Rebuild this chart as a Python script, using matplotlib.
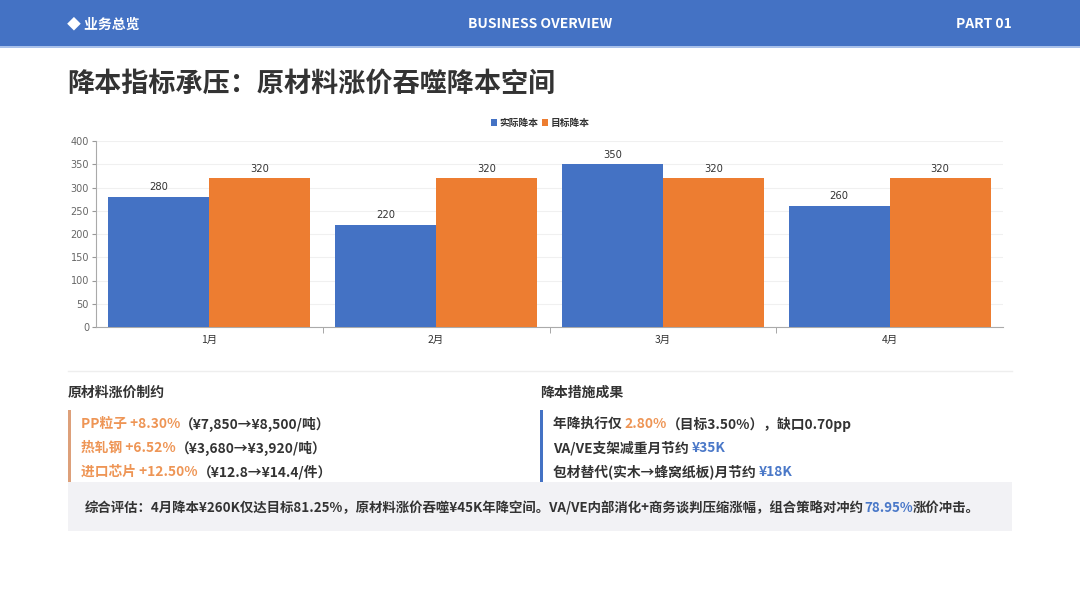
import numpy as np
import matplotlib
matplotlib.use("Agg")
import matplotlib.pyplot as plt
from matplotlib.patches import Rectangle

plt.rcParams['font.family'] = ['Noto Sans CJK SC', 'DejaVu Sans']

# -------------------- data --------------------
months = ["1月", "2月", "3月", "4月"]
actual = [280, 220, 350, 260]
target = [320, 320, 320, 320]
series_names = ["实际降本", "目标降本"]

left_items = [
    [("PP粒子 +8.30%", "o"), ("（¥7,850→¥8,500/吨）", "k")],
    [("热轧钢 +6.52%", "o"), ("（¥3,680→¥3,920/吨）", "k")],
    [("进口芯片 +12.50%", "o"), ("（¥12.8→¥14.4/件）", "k")],
]
right_items = [
    [("年降执行仅 ", "k"), ("2.80%", "o"), ("（目标3.50%），缺口0.70pp", "k")],
    [("VA/VE支架减重月节约 ", "k"), ("¥35K", "b")],
    [("包材替代(实木→蜂窝纸板)月节约 ", "k"), ("¥18K", "b")],
]
summary = [("综合评估：4月降本¥260K仅达目标81.25%，原材料涨价吞噬¥45K年降空间。VA/VE内部消化+商务谈判压缩涨幅，组合策略对冲约", "k"),
           ("78.95%", "b"), ("涨价冲击。", "k")]

BLUE = "#4472C4"
ORANGE = "#ED7D31"
DARK = "#333333"
cmap = {"k": DARK, "o": "#EE9555", "b": "#4A78C8"}

W, H = 1080, 608
fig = plt.figure(figsize=(W / 100, H / 100), dpi=100)
fig.patch.set_facecolor("white")

# page layer in pixel coords
bg = fig.add_axes([0, 0, 1, 1])
bg.set_xlim(0, W)
bg.set_ylim(H, 0)
bg.axis("off")

bg.add_patch(Rectangle((0, 0), W, 46, color=BLUE, lw=0))
bg.add_patch(Rectangle((0, 46), W, 2, color="#A9C1EA", lw=0))
bg.text(67, 24, "◆ 业务总览", color="white", fontsize=10, fontweight="bold", va="center")
bg.text(540, 24, "BUSINESS OVERVIEW", color="white", fontsize=10, fontweight="bold",
        va="center", ha="center")
bg.text(1012, 24, "PART 01", color="white", fontsize=10, fontweight="bold",
        va="center", ha="right")

bg.text(67, 84, "降本指标承压：原材料涨价吞噬降本空间", color=DARK, fontsize=19.5,
        fontweight="bold", va="center")

# separator
bg.plot([68, 1012], [371, 371], color="#EEEEEE", lw=1)

bg.text(68, 393, "原材料涨价制约", color=DARK, fontsize=10, fontweight="bold", va="center")
bg.text(540, 393, "降本措施成果", color=DARK, fontsize=10, fontweight="bold", va="center")

bg.add_patch(Rectangle((68, 410), 2.5, 74, color="#DDA07A", lw=0))
bg.add_patch(Rectangle((540, 410), 2.5, 74, color=BLUE, lw=0))

# summary box
bg.add_patch(Rectangle((68, 482), 944, 49, color="#F2F2F5", lw=0))

fig.canvas.draw()
renderer = fig.canvas.get_renderer()


def runs(x, y, parts, size=10, weight="normal"):
    # place coloured pieces one after another
    for txt, c in parts:
        t = bg.text(x, y, txt, color=cmap[c], fontsize=size, fontweight=weight, va="center")
        bb = t.get_window_extent(renderer=renderer)
        x += bb.width


row_y = [424, 448, 472]
for y, parts in zip(row_y, left_items):
    runs(81, y, parts, size=9.9, weight="bold")
for y, parts in zip(row_y, right_items):
    runs(553, y, parts, size=9.9, weight="bold")
runs(85, 508, summary, size=9.65, weight="bold")

# -------------------- chart --------------------
x0, x1, ytop, ybot = 96, 1003, 141, 327
ax = fig.add_axes([x0 / W, (H - ybot) / H, (x1 - x0) / W, (ybot - ytop) / H])
x = np.arange(len(months))
bw = 0.445
b1 = ax.bar(x - bw / 2, actual, bw, color=BLUE, label=series_names[0], zorder=3)
b2 = ax.bar(x + bw / 2, target, bw, color=ORANGE, label=series_names[1], zorder=3)
for bars in (b1, b2):
    for r in bars:
        ax.text(r.get_x() + r.get_width() / 2, r.get_height() + 10, f"{int(r.get_height())}",
                ha="center", va="bottom", fontsize=7.2, color=DARK, family="DejaVu Sans")

ax.set_xlim(-0.5, len(months) - 0.5)
ax.set_ylim(0, 400)
ax.set_yticks(range(0, 401, 50))
ax.set_xticks(x)
ax.set_xticklabels(months, fontsize=7.5, color=DARK)
ax.set_xticks(np.arange(0.5, len(months) - 0.5, 1), minor=True)
ax.tick_params(axis="x", which="major", length=0, pad=6)
ax.tick_params(axis="x", which="minor", length=4, color="#999999")
ax.tick_params(axis="y", labelsize=7, labelcolor="#666666", length=3, color="#999999", pad=2)
for lab in ax.get_yticklabels():
    lab.set_family("DejaVu Sans")
ax.grid(axis="y", color="#F0F0F0", lw=0.8, zorder=0)
for s in ("top", "right"):
    ax.spines[s].set_visible(False)
for s in ("left", "bottom"):
    ax.spines[s].set_color("#AAAAAA")
    ax.spines[s].set_linewidth(0.8)

leg = ax.legend(loc="center", bbox_to_anchor=(0.49, 1.0 + 18 / 186), ncol=2, frameon=False,
                fontsize=7, handlelength=0.6, handleheight=0.6, handletextpad=0.3,
                columnspacing=0.4)
for t in leg.get_texts():
    t.set_fontweight("bold")
    t.set_color(DARK)

fig.savefig("out.png", dpi=100, facecolor="white")
